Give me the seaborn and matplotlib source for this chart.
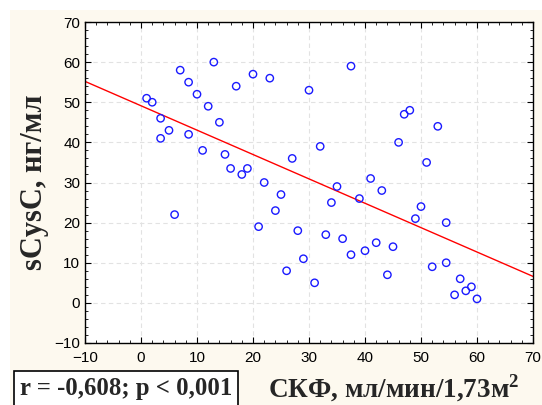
import matplotlib
matplotlib.use("Agg")
import matplotlib.pyplot as plt
import seaborn as sns
import pandas as pd
from matplotlib.patches import Rectangle
from matplotlib.ticker import MultipleLocator

# Data
gfr = [1, 2, 3.5, 5, 3.5, 7, 8.5, 10, 12, 14, 8.5, 11, 15, 16, 13, 17, 20, 23, 30, 37.5,
       32, 27, 19, 18, 22, 35, 41, 43, 47, 48, 53, 46, 51, 6, 25, 24, 21, 28, 29, 26,
       31, 33, 36, 37.5, 40, 42, 44, 34, 39, 50, 49, 54.5, 45, 52, 54.5, 57, 56, 58, 59, 60]
cysc = [51, 50, 46, 43, 41, 58, 55, 52, 49, 45, 42, 38, 37, 33.5, 60, 54, 57, 56, 53, 59,
        39, 36, 33.5, 32, 30, 29, 31, 28, 47, 48, 44, 40, 35, 22, 27, 23, 19, 18, 11, 8,
        5, 17, 16, 12, 13, 15, 7, 25, 26, 24, 21, 20, 14, 9, 10, 6, 2, 3, 4, 1]
fit_x = [-10, 70]
fit_y = [55.2, 6.6]
x_ticks = [-10, 0, 10, 20, 30, 40, 50, 60, 70]
y_ticks = [-10, 0, 10, 20, 30, 40, 50, 60, 70]
stat_text = "r = -0,608; p < 0,001"
x_label = "СКФ, мл/мин/1,73м$^\\mathbf{2}$"
y_label = "sCysC, нг/мл"

sns.set_style("ticks")
plt.rcParams['font.family'] = ['Liberation Sans', 'DejaVu Sans']
plt.rcParams['mathtext.fontset'] = 'custom'
plt.rcParams['mathtext.bf'] = 'Liberation Serif:bold'
plt.rcParams['mathtext.rm'] = 'Liberation Serif'

W, H = 542, 405
fig = plt.figure(figsize=(W / 100, H / 100), dpi=100, facecolor="white")
fig.patches.append(Rectangle((10 / W, 0), 1 - 10 / W, 1 - 10 / H, transform=fig.transFigure,
                             facecolor="#fdf9ef", edgecolor="none", zorder=-10))
ax = fig.add_axes([85 / W, (405 - 343) / H, (533 - 85) / W, (343 - 22) / H])
ax.set_facecolor("white")

df = pd.DataFrame({"x": gfr, "y": cysc})
line_df = pd.DataFrame({"x": fit_x, "y": fit_y})
sns.lineplot(data=line_df, x="x", y="y", color="#ff0000", linewidth=1.0, ax=ax, zorder=2)
sns.scatterplot(data=df, x="x", y="y", ax=ax, marker="o", s=28, facecolors="none",
                edgecolor="#1a1aff", linewidth=1.0, zorder=3)

ax.set_xlim(-10, 70)
ax.set_ylim(-10, 70)
ax.set_xticks(x_ticks)
ax.set_yticks(y_ticks)
ax.xaxis.set_minor_locator(MultipleLocator(2))
ax.yaxis.set_minor_locator(MultipleLocator(2))
ax.tick_params(which="both", direction="in", top=True, right=True, labelsize=11,
               colors="black")
ax.tick_params(which="major", length=4, width=0.8)
ax.tick_params(which="minor", length=2.5, width=0.6)
ax.tick_params(axis="x", pad=6)
ax.grid(True, which="major", linestyle=(0, (4, 3)), color="#e2e2e2", linewidth=0.8)
for s in ax.spines.values():
    s.set_color("black")
    s.set_linewidth(1.0)

ax.set_xlabel("")
ax.set_ylabel(y_label, family=["Liberation Serif", "DejaVu Serif"], fontsize=22,
              fontweight="bold", labelpad=4)

fig.text(20 / W, 1 - 389 / H, stat_text, family=["Liberation Serif", "DejaVu Serif"],
         fontsize=17.8, fontweight="bold", va="center", ha="left",
         bbox=dict(boxstyle="square,pad=0.25", facecolor="white", edgecolor="black",
                   linewidth=1.2))
fig.text(268 / W, 1 - 388 / H, x_label, family=["Liberation Serif", "DejaVu Serif"],
         fontsize=19.5, fontweight="bold", va="center", ha="left")

fig.savefig("out.png", dpi=100, facecolor="white")
